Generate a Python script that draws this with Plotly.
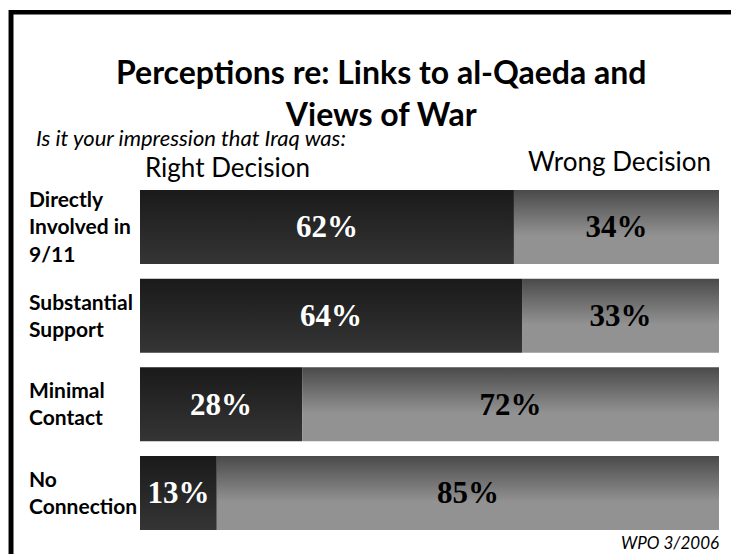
import plotly.graph_objects as go

categories = ["Directly<br>Involved in<br>9/11", "Substantial<br>Support", "Minimal<br>Contact", "No<br>Connection"]
right_decision = [62, 64, 28, 13]
wrong_decision = [34, 33, 72, 85]
series_names = ["Right Decision", "Wrong Decision"]

W, H = 739, 554
OFF = 8  # page body margin of the browser
BAR_HALF = 0.417

def px(x):
    return (x - OFF) / W

def py(y):
    return 1 - (y - OFF) / H

dark_scale = [[0, "#1a1a1a"], [1, "#353535"]]
light_scale = [[0, "#4a4a4a"], [0.62, "#929292"], [1, "#929292"]]

fig = go.Figure()

for i, (cat, r, w) in enumerate(zip(categories, right_decision, wrong_decision)):
    total = r + w
    r_end = r / total * 100
    y0, y1 = i - BAR_HALF, i + BAR_HALF
    segs = [(0, r_end, dark_scale, r, "white"), (r_end, 100, light_scale, w, "black")]
    for (a, b, scale, val, tcol) in segs:
        fig.add_trace(go.Scatter(
            x=[a, b, b, a, a], y=[y0, y0, y1, y1, y0],
            mode="lines", fill="toself", line=dict(width=0, color="rgba(0,0,0,0)"),
            fillgradient=dict(type="vertical", colorscale=scale, start=y0, stop=y1),
            hoverinfo="skip", showlegend=False,
        ))
        fig.add_trace(go.Scatter(
            x=[(a + b) / 2], y=[i + 0.03], mode="text", text=[f"{val}%"],
            textfont=dict(family="Liberation Serif", size=31, color=tcol, weight="bold"),
            hoverinfo="skip", showlegend=False,
        ))
    fig.add_annotation(
        xref="paper", yref="y", x=px(27), y=i - 0.01, xanchor="left", yanchor="middle",
        text=f"<b>{cat}</b>", showarrow=False, align="left",
        font=dict(family="Lato", size=21, color="black"),
    )

# Titles and headers
fig.add_annotation(xref="paper", yref="paper", x=px(381), y=py(135), xanchor="center", yanchor="bottom",
                   text="<b>Perceptions re: Links to al-Qaeda and<br>Views of War</b>", showarrow=False,
                   font=dict(family="Lato", size=32, color="black"))
fig.add_annotation(xref="paper", yref="paper", x=px(34), y=py(137), xanchor="left", yanchor="middle",
                   text="<i>Is it your impression that Iraq was:</i>", showarrow=False,
                   font=dict(family="Lato", size=22, color="black"))
fig.add_annotation(xref="paper", yref="paper", x=px(228), y=py(167), xanchor="center", yanchor="middle",
                   text=series_names[0], showarrow=False,
                   font=dict(family="Lato", size=26, color="black"))
fig.add_annotation(xref="paper", yref="paper", x=px(619), y=py(161), xanchor="center", yanchor="middle",
                   text=series_names[1], showarrow=False,
                   font=dict(family="Lato", size=26, color="black"))
fig.add_annotation(xref="paper", yref="paper", x=px(721), y=py(542), xanchor="right", yanchor="middle",
                   text="<i>WPO 3/2006</i>", showarrow=False,
                   font=dict(family="Lato", size=17, color="black"))

# Frame
shapes = [
    dict(x0=8, x1=9, y0=10, y1=H + OFF, fill="#8a8a8a"),
    dict(x0=9, x1=13.5, y0=10, y1=H + OFF, fill="black"),
    dict(x0=9, x1=737, y0=10, y1=14.5, fill="black"),
    dict(x0=733, x1=737, y0=10, y1=H + OFF, fill="black"),
    dict(x0=737, x1=739, y0=14, y1=H + OFF, fill="#8a8a8a"),
]
for s in shapes:
    fig.add_shape(type="rect", xref="paper", yref="paper",
                  x0=px(s["x0"]), x1=px(s["x1"]), y0=py(s["y1"]), y1=py(s["y0"]),
                  fillcolor=s["fill"], line=dict(width=0), layer="above")

y_top_px = 227 - 44.3
y_bot_px = 493 + 44.3
fig.update_layout(
    width=W, height=H, autosize=False,
    margin=dict(l=0, r=0, t=0, b=0),
    paper_bgcolor="white", plot_bgcolor="white",
    showlegend=False,
    xaxis=dict(domain=[px(140), px(719)], range=[0, 100], visible=False, fixedrange=True),
    yaxis=dict(domain=[py(y_bot_px), py(y_top_px)], range=[3.5, -0.5], visible=False, fixedrange=True),
)

fig.write_html("out.html")
